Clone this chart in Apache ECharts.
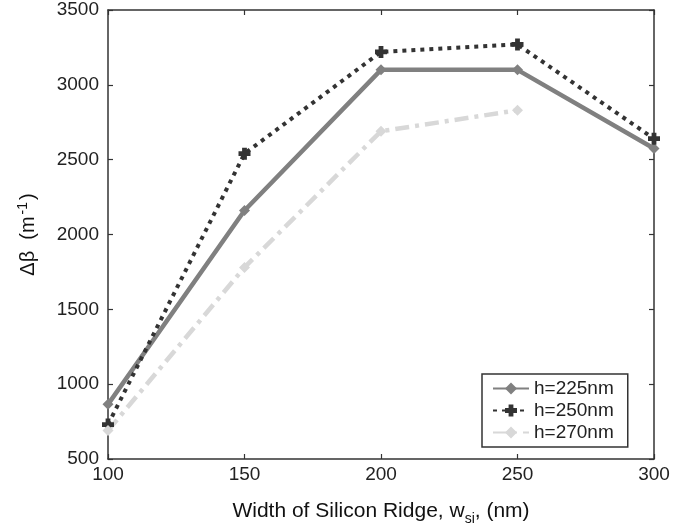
<!DOCTYPE html>
<html>
<head>
<meta charset="utf-8">
<script src="https://cdn.jsdelivr.net/npm/echarts@6/dist/echarts.min.js"></script>
<style>
  html, body { margin: 0; padding: 0; background: #fff; }
  #chart { width: 686px; height: 531px; }
</style>
</head>
<body>
<div id="chart"></div>
<script>
// ridge widths (nm)
const widths = [100, 150, 200, 250, 300]
// delta beta values (m^-1)
const h225 = [865, 2160, 3100, 3100, 2575]
const h250 = [730, 2540, 3220, 3270, 2640]
const h270 = [690, 1780, 2690, 2830, null]
const yTicks = [500, 1000, 1500, 2000, 2500, 3000, 3500]

const chart = echarts.init(document.getElementById('chart'))
const font = 'Liberation Sans, Arial, sans-serif'
const plusPath = 'path://M3,0 L7,0 L7,3 L10,3 L10,7 L7,7 L7,10 L3,10 L3,7 L0,7 L0,3 L3,3 Z'

const pairs = arr => widths.map((w, i) => [w, arr[i]]).filter(p => p[1] != null)

const axisCommon = {
    axisLine: { lineStyle: { color: '#333', width: 1.5 } },
    axisTick: { inside: true, length: 5, lineStyle: { color: '#333', width: 1.2 } },
    splitLine: { show: false }
}

const option = {
    backgroundColor: '#fff',
    animation: false,
    grid: { left: 108, right: 32, top: 10, bottom: 70 },
    xAxis: [{
        ...axisCommon,
        type: 'value', min: 100, max: 300, interval: 50,
        axisLabel: { color: '#222', fontSize: 19, fontFamily: font, margin: 6 },
        name: '{t|Width of Silicon Ridge, w}{s|si}{t|, (nm)}',
        nameLocation: 'middle', nameGap: 37,
        nameTextStyle: {
            rich: {
                t: { fontSize: 21, fontFamily: font, color: '#111' },
                s: { fontSize: 14, fontFamily: font, color: '#111', verticalAlign: 'bottom', padding: [16, 0, 0, 0] }
            }
        }
    }, {
        ...axisCommon,
        type: 'value', min: 100, max: 300, interval: 50, position: 'top',
        axisLabel: { show: false }
    }],
    yAxis: [{
        ...axisCommon,
        type: 'value', min: yTicks[0], max: yTicks[yTicks.length - 1], interval: 500,
        axisLabel: { color: '#222', fontSize: 19, fontFamily: font, margin: 9, formatter: v => String(v) },
        name: '{t|Δβ  (m}{s|-1}{t|)}',
        nameLocation: 'middle', nameGap: 68, nameRotate: 90,
        nameTextStyle: {
            rich: {
                t: { fontSize: 20, fontFamily: font, color: '#111' },
                s: { fontSize: 14, fontFamily: font, color: '#111', verticalAlign: 'top', padding: [0, 2, 10, 2] }
            }
        }
    }, {
        ...axisCommon,
        type: 'value', min: 500, max: 3500, interval: 500, position: 'right',
        axisLabel: { show: false }
    }],
    legend: {
        orient: 'vertical',
        left: 482, top: 374,
        width: 151,
        padding: [5, 14, 5, 10],
        itemGap: 3,
        itemWidth: 36, itemHeight: 15,
        backgroundColor: '#fff',
        borderColor: '#333', borderWidth: 1.5, borderRadius: 0,
        textStyle: { fontSize: 19, fontFamily: font, color: '#222' },
        data: ['h=225nm', 'h=250nm', 'h=270nm']
    },
    series: [{
        name: 'h=225nm', type: 'line',
        data: pairs(h225),
        symbol: 'diamond', symbolSize: 11,
        itemStyle: { color: '#808080' },
        lineStyle: { color: '#808080', width: 4.5 }
    }, {
        name: 'h=250nm', type: 'line',
        data: pairs(h250),
        symbol: plusPath, symbolSize: 12,
        itemStyle: { color: '#333' },
        lineStyle: { color: '#333', width: 4, type: [4, 5] }
    }, {
        name: 'h=270nm', type: 'line',
        data: pairs(h270),
        symbol: 'diamond', symbolSize: 11,
        itemStyle: { color: '#d8d8d8' },
        lineStyle: { color: '#d8d8d8', width: 4.5, type: [14, 6, 4, 6] }
    }]
}

chart.setOption(option)
</script>
</body>
</html>
